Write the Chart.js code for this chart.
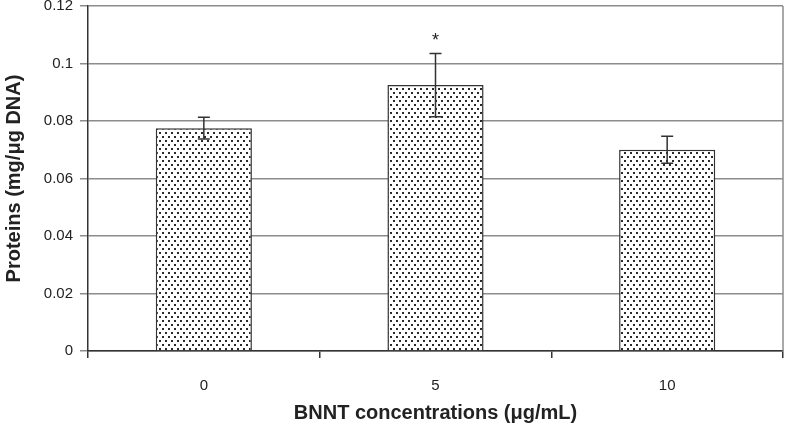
<!DOCTYPE html>
<html>
<head>
<meta charset="utf-8">
<script src="https://cdn.jsdelivr.net/npm/chart.js@4.4.1/dist/chart.umd.min.js"></script>
<style>
    html, body { margin: 0; padding: 0; background: #ffffff; }
    #wrap { width: 786px; height: 430px; }
</style>
</head>
<body>
<div id="wrap"><canvas id="proteinChart"></canvas></div>
<script>
var concentrations = ["0", "5", "10"];
var proteins = [0.0775, 0.0925, 0.0700];
var errors = [0.0038, 0.0110, 0.0047];
var significance = ["", "*", ""];
var yTicks = [0, 0.02, 0.04, 0.06, 0.08, 0.1, 0.12];

var darkLine = "#333333";
var gridGrey = "#8c8c8c";
var fontFamily = "'Liberation Sans', Arial, sans-serif";

// Function to build the dotted fill used inside the bars
function makeDotPattern() {
    var tile = document.createElement("canvas");
    tile.width = 6;
    tile.height = 8;
    var ctx = tile.getContext("2d");
    ctx.fillStyle = "#ffffff";
    ctx.fillRect(0, 0, 6, 8);
    ctx.fillStyle = "#2a2a2a";
    ctx.fillRect(0, 0, 2, 2);
    ctx.fillRect(3, 4, 2, 2);
    return document.getElementById("proteinChart").getContext("2d").createPattern(tile, "repeat");
}

// Plugin to draw the error bars, the significance mark and the right frame line
var errorBarPlugin = {
    id: "errorBars",
    afterDatasetsDraw: function (chart) {
        var ctx = chart.ctx;
        var yScale = chart.scales.y;
        var meta = chart.getDatasetMeta(0);
        ctx.save();
        ctx.strokeStyle = darkLine;
        ctx.lineWidth = 1.5;
        meta.data.forEach(function (bar, i) {
            var x = bar.x;
            var top = yScale.getPixelForValue(proteins[i] + errors[i]);
            var bottom = yScale.getPixelForValue(proteins[i] - errors[i]);
            ctx.beginPath();
            ctx.moveTo(x, top);
            ctx.lineTo(x, bottom);
            ctx.moveTo(x - 6, top);
            ctx.lineTo(x + 6, top);
            ctx.moveTo(x - 6, bottom);
            ctx.lineTo(x + 6, bottom);
            ctx.stroke();
            if (significance[i]) {
                ctx.fillStyle = "#222222";
                ctx.font = "18px " + fontFamily;
                ctx.textAlign = "center";
                ctx.textBaseline = "middle";
                ctx.fillText(significance[i], x, top - 12);
            }
        });
        // right edge of the plot frame
        var area = chart.chartArea;
        ctx.strokeStyle = gridGrey;
        ctx.beginPath();
        ctx.moveTo(area.right, area.top);
        ctx.lineTo(area.right, area.bottom);
        ctx.stroke();
        ctx.restore();
    }
};

new Chart(document.getElementById("proteinChart"), {
    type: "bar",
    data: {
        labels: concentrations,
        datasets: [{
            label: "Proteins",
            data: proteins,
            backgroundColor: makeDotPattern(),
            borderColor: darkLine,
            borderWidth: 1.5,
            categoryPercentage: 1,
            barPercentage: 0.415
        }]
    },
    options: {
        responsive: true,
        maintainAspectRatio: false,
        animation: false,
        devicePixelRatio: 1,
        layout: {
            padding: { top: 6, right: 3, left: 0, bottom: 0 }
        },
        plugins: {
            legend: { display: false },
            tooltip: { enabled: false }
        },
        scales: {
            x: {
                grid: {
                    offset: true,
                    drawOnChartArea: false,
                    drawTicks: true,
                    tickLength: 7,
                    tickColor: darkLine,
                    lineWidth: 1.5
                },
                border: { color: darkLine, width: 1.5 },
                ticks: {
                    color: "#222222",
                    padding: 19,
                    font: { family: fontFamily, size: 15 }
                },
                title: {
                    display: true,
                    text: "BNNT concentrations (\u03bcg/mL)",
                    color: "#222222",
                    padding: { top: 0, bottom: 5 },
                    font: { family: fontFamily, size: 20, weight: "bold" }
                },
                afterFit: function (scale) {
                    scale.height = 79;
                    scale.paddingLeft = 0;
                    scale.paddingRight = 0;
                }
            },
            y: {
                min: 0,
                max: 0.12,
                afterBuildTicks: function (scale) {
                    scale.ticks = yTicks.map(function (v) { return { value: v }; });
                },
                grid: {
                    color: gridGrey,
                    lineWidth: 1.5,
                    tickLength: 8,
                    tickColor: gridGrey
                },
                border: { color: darkLine, width: 1.5 },
                ticks: {
                    color: "#222222",
                    padding: 7,
                    font: { family: fontFamily, size: 15 },
                    callback: function (value) {
                        return String(parseFloat(value.toFixed(2)));
                    }
                },
                title: {
                    display: true,
                    text: "Proteins (mg/\u03bcg DNA)",
                    color: "#222222",
                    padding: { top: 2, bottom: 0 },
                    font: { family: fontFamily, size: 20, weight: "bold" }
                },
                afterFit: function (scale) {
                    scale.width = 88;
                    scale.paddingTop = 0;
                    scale.paddingBottom = 0;
                }
            }
        }
    },
    plugins: [errorBarPlugin]
});
</script>
</body>
</html>
